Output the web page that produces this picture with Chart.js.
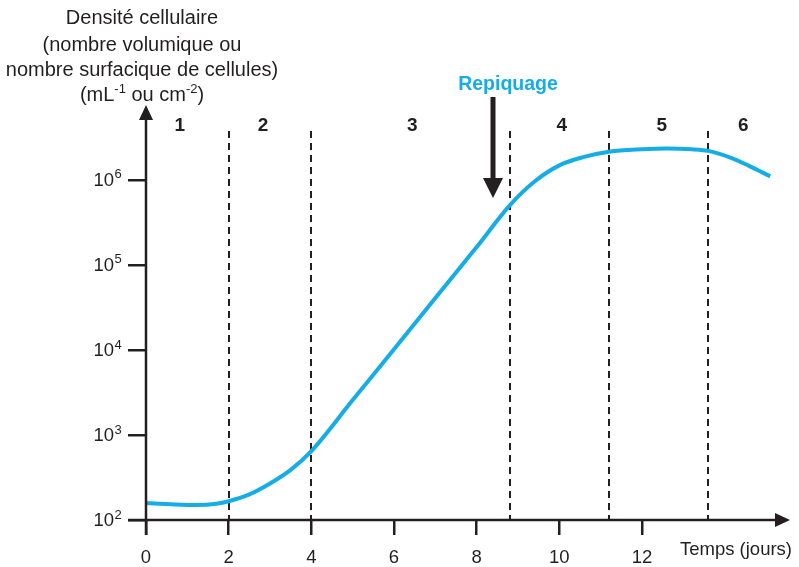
<!DOCTYPE html>
<html lang="fr">
<head>
<meta charset="utf-8">
<title>Densité cellulaire</title>
<script src="https://cdn.jsdelivr.net/npm/chart.js@4.4.0/dist/chart.umd.min.js"></script>
<style>
  html, body { margin: 0; padding: 0; background: #fff; }
  #wrap { width: 799px; height: 567px; position: relative; }
</style>
</head>
<body>
<div id="wrap"><canvas id="chart"></canvas></div>
<script>
// temps (jours) et densité cellulaire
const jours = [0, 0.6, 1.2, 1.7, 2, 2.5, 3, 3.5, 4, 5, 6, 7, 8, 8.8, 9.4, 10, 10.6, 11.2, 12, 12.6, 13.2, 13.6, 14.2, 14.6, 15.1];
const densite = [158, 153, 150, 155, 166, 200, 269, 389, 646, 2570, 10200, 40700, 162000, 501000, 955000,
  1480000, 1860000, 2140000, 2290000, 2340000, 2290000, 2190000, 1780000, 1450000, 1100000];

// graduations
const xTicks = [0, 2, 4, 6, 8, 10, 12];
const yTicks = [1e2, 1e3, 1e4, 1e5, 1e6];
const yExposants = ['2', '3', '4', '5', '6'];

// phases de croissance
const limitesPhases = [2, 4, 8.8, 11.2, 13.6];
const phases = ['1', '2', '3', '4', '5', '6'];
const centresPhases = [0.82, 2.83, 6.44, 10.06, 12.48, 14.45];
const jourRepiquage = 8.4;

const INK = '#231f20';
const BLEU = '#16ade6';
const POLICE = '"Liberation Sans", Arial, Helvetica, sans-serif';

// tout le décor : axes fléchés, pointillés, textes
const decor = {
  id: 'decor',
  beforeDatasetsDraw(chart) {
    const { ctx, scales: { x }, chartArea } = chart;
    ctx.save();
    ctx.strokeStyle = INK;
    ctx.lineWidth = 2;
    ctx.setLineDash([7, 5]);
    limitesPhases.forEach(j => {
      const px = Math.round(x.getPixelForValue(j));
      ctx.beginPath();
      ctx.moveTo(px, 131);
      ctx.lineTo(px, chartArea.bottom);
      ctx.stroke();
    });
    ctx.restore();
  },
  afterDraw(chart) {
    const { ctx, scales: { x, y }, chartArea } = chart;
    const x0 = chartArea.left, yb = chartArea.bottom;
    ctx.save();

    // axes
    ctx.strokeStyle = INK;
    ctx.fillStyle = INK;
    ctx.lineWidth = 2.5;
    ctx.beginPath();
    ctx.moveTo(x0, yb + 15);
    ctx.lineTo(x0, chartArea.top + 12);
    ctx.moveTo(x0 - 18, yb);
    ctx.lineTo(chartArea.right - 12, yb);
    ctx.stroke();
    ctx.beginPath();
    ctx.moveTo(x0, chartArea.top);
    ctx.lineTo(x0 - 7, chartArea.top + 15);
    ctx.lineTo(x0 + 7, chartArea.top + 15);
    ctx.closePath();
    ctx.fill();
    ctx.beginPath();
    ctx.moveTo(chartArea.right, yb);
    ctx.lineTo(chartArea.right - 15, yb - 7);
    ctx.lineTo(chartArea.right - 15, yb + 7);
    ctx.closePath();
    ctx.fill();

    // étiquettes 10^n
    yTicks.forEach((v, i) => {
      const py = y.getPixelForValue(v);
      ctx.font = '18.5px ' + POLICE;
      ctx.textAlign = 'right';
      ctx.textBaseline = 'middle';
      ctx.fillText('10', 114, py + 1);
      ctx.font = '13px ' + POLICE;
      ctx.textAlign = 'left';
      ctx.fillText(yExposants[i], 114.5, py - 5);
    });

    // titre de l'axe vertical
    ctx.textAlign = 'center';
    ctx.textBaseline = 'middle';
    ctx.font = '20px ' + POLICE;
    ctx.fillText('Densité cellulaire', 142, 18);
    ctx.fillText('(nombre volumique ou', 142, 45);
    ctx.fillText('nombre surfacique de cellules)', 142, 70);
    const morceaux = [['(mL', false], ['-1', true], [' ou cm', false], ['-2', true], [')', false]];
    let total = 0;
    morceaux.forEach(([t, sup]) => {
      ctx.font = (sup ? '13px ' : '20px ') + POLICE;
      total += ctx.measureText(t).width;
    });
    let cx = 142 - total / 2;
    ctx.textAlign = 'left';
    morceaux.forEach(([t, sup]) => {
      ctx.font = (sup ? '13px ' : '20px ') + POLICE;
      ctx.fillText(t, cx, sup ? 89 : 95);
      cx += ctx.measureText(t).width;
    });

    // titre de l'axe horizontal
    ctx.font = '18.5px ' + POLICE;
    ctx.textAlign = 'right';
    ctx.fillText('Temps (jours)', 792, 550);

    // numéros des phases
    ctx.font = 'bold 19px ' + POLICE;
    ctx.textAlign = 'center';
    phases.forEach((p, i) => {
      ctx.fillText(p, x.getPixelForValue(centresPhases[i]), 126);
    });

    // repiquage
    const ax = Math.round(x.getPixelForValue(jourRepiquage));
    ctx.fillStyle = BLEU;
    ctx.font = 'bold 19.5px ' + POLICE;
    ctx.fillText('Repiquage', 508, 85);
    ctx.fillStyle = INK;
    ctx.fillRect(ax - 2.5, 97, 5, 84);
    ctx.beginPath();
    ctx.moveTo(ax - 10, 178);
    ctx.lineTo(ax + 10, 178);
    ctx.lineTo(ax, 198);
    ctx.closePath();
    ctx.fill();

    ctx.restore();
  }
};

new Chart(document.getElementById('chart'), {
  type: 'line',
  data: {
    datasets: [{
      data: jours.map((j, i) => ({ x: j, y: densite[i] })),
      borderColor: BLEU,
      borderWidth: 4,
      pointRadius: 0,
      cubicInterpolationMode: 'monotone',
      fill: false
    }]
  },
  options: {
    responsive: true,
    maintainAspectRatio: false,
    animation: false,
    layout: { padding: { top: 105, right: 9, left: 0, bottom: 0 } },
    plugins: { legend: { display: false }, tooltip: { enabled: false } },
    scales: {
      x: {
        type: 'linear',
        min: 0,
        max: 15.58,
        afterBuildTicks: s => { s.ticks = xTicks.map(v => ({ value: v })); },
        afterFit: s => { s.height = 47; },
        border: { display: false },
        grid: { drawOnChartArea: false, drawTicks: true, tickLength: 15, color: INK, lineWidth: 2.5 },
        ticks: { color: INK, padding: 12, maxRotation: 0, font: { size: 18.5, family: POLICE } }
      },
      y: {
        type: 'logarithmic',
        min: 100,
        max: 7.59e6,
        afterBuildTicks: s => { s.ticks = yTicks.map(v => ({ value: v })); },
        afterFit: s => { s.width = 146; },
        border: { display: false },
        grid: { drawOnChartArea: false, drawTicks: true, tickLength: 18, color: INK, lineWidth: 2.5 },
        ticks: { callback: () => '', padding: 0 }
      }
    }
  },
  plugins: [decor]
});
</script>
</body>
</html>
